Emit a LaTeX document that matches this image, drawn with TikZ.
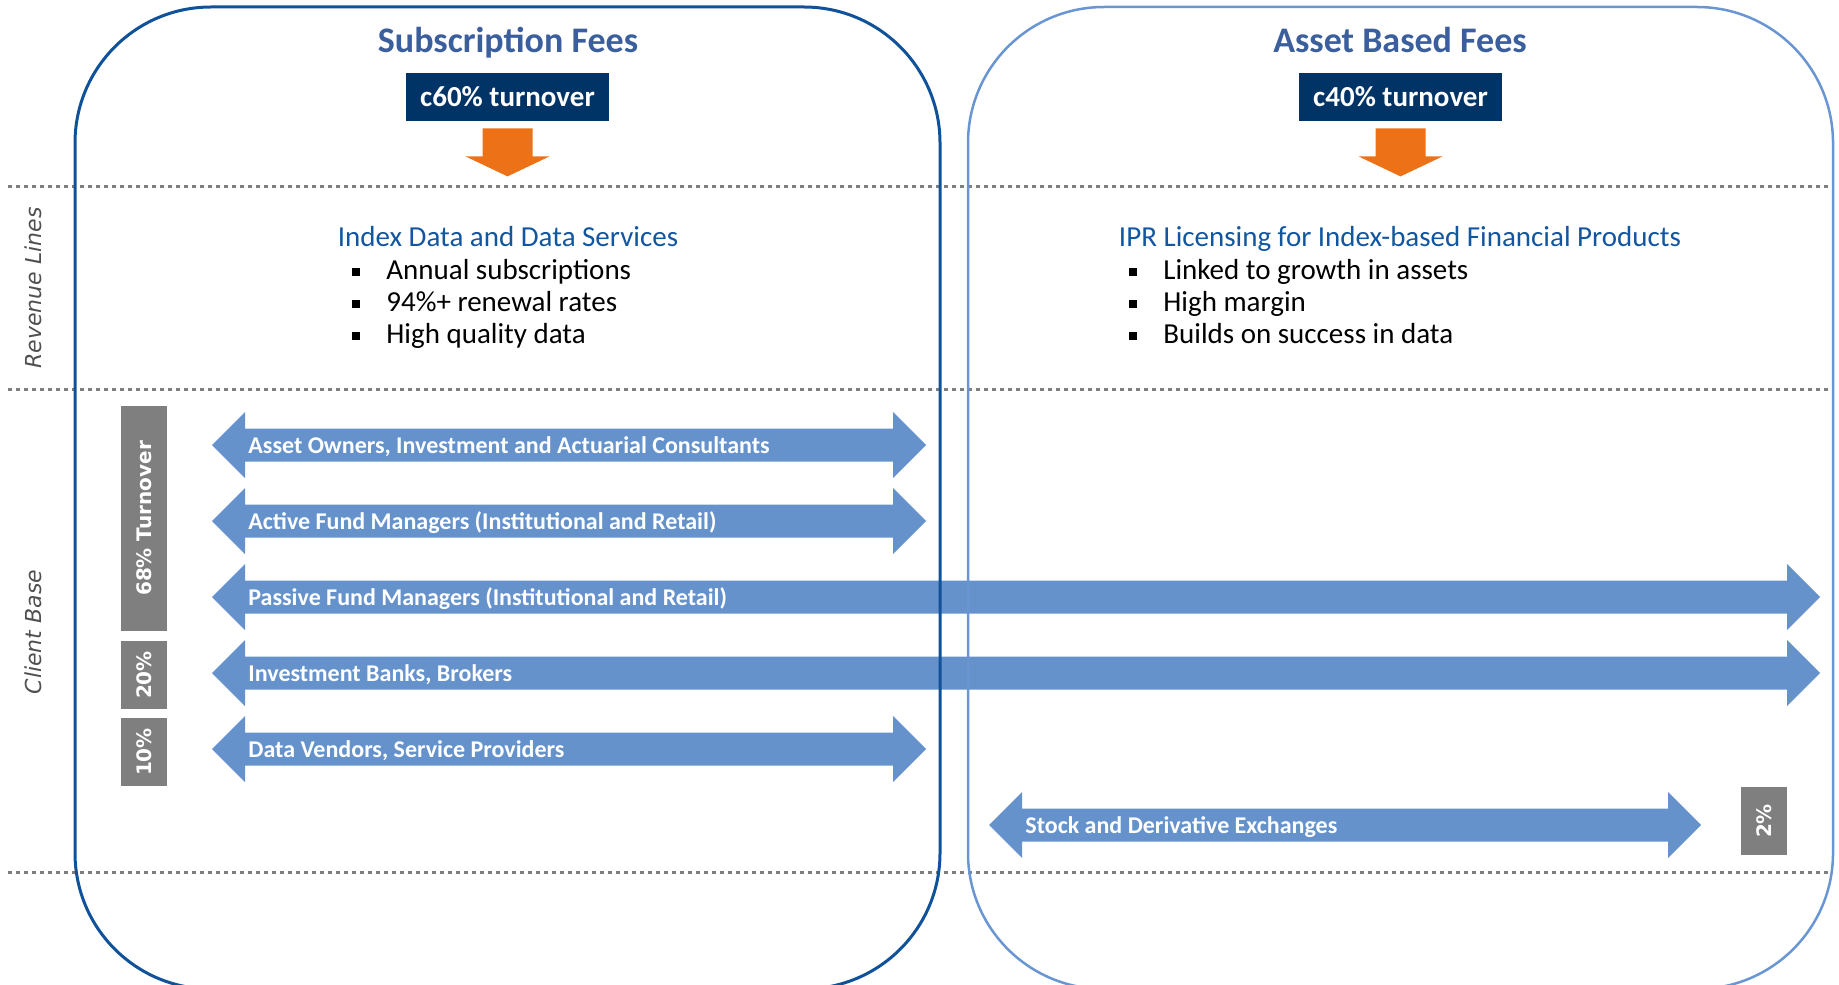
\documentclass[tikz,border=0pt]{standalone}
\usepackage{fontspec}
\setmainfont{Carlito}
\newfontfamily\widefont{DejaVu Sans}[ItalicFont={DejaVu Sans Oblique},BoldFont={DejaVu Sans Bold}]
\usetikzlibrary{positioning}

\definecolor{subblue}{RGB}{16,82,153}
\definecolor{assetblue}{RGB}{105,150,210}
\definecolor{headblue}{RGB}{59,94,157}
\definecolor{lineblue}{RGB}{18,86,160}
\definecolor{navy}{RGB}{0,51,102}
\definecolor{feeorange}{RGB}{237,113,22}
\definecolor{clientblue}{RGB}{102,146,204}
\definecolor{sharegray}{RGB}{127,127,127}
\definecolor{sidegray}{RGB}{80,80,80}

\tikzset{
	feehead/.style={font=\fontsize{18}{20}\selectfont\bfseries, text=headblue, anchor=base},
	turnover/.style={fill=navy, text=white, font=\fontsize{14.5}{16}\selectfont\bfseries, minimum width=101.5pt, minimum height=24pt, inner sep=0pt},
	feedarrow/.style={fill=feeorange},
	linehead/.style={font=\fontsize{14.5}{16}\selectfont, text=lineblue, anchor=base},
	lineitem/.style={font=\fontsize{14.5}{16}\selectfont, anchor=base west, inner sep=0pt},
	sepline/.style={draw=sharegray, line width=1.5pt, dash pattern=on 1.8pt off 2.2pt},
	sidelabel/.style={font=\widefont\itshape\fontsize{11}{13}\selectfont, text=sidegray, rotate=90},
	clientlabel/.style={font=\fontsize{12}{14}\selectfont\bfseries, text=white, anchor=base west, inner sep=0pt},
	share/.style={fill=sharegray, text=white, font=\widefont\bfseries\fontsize{10}{12}\selectfont, rotate=90, minimum width=34pt, minimum height=23pt, inner sep=0pt},
	feebox/.style={rounded corners=68pt, minimum width=432.5pt, minimum height=491pt}
}

\newcommand{\sqbullet}{\makebox[17pt][l]{\rule[1.5pt]{3.8pt}{3.8pt}}}
% name, y, left tip, right tip, text
\newcommand{\clientarrow}[5]{%
	\fill[clientblue] (#3,#2) -- ++(33,-33) -- ++(0,16.5) -- ({#4-33},{#2-16.5}) -- ++(0,-16.5) -- (#4,#2)
		-- ++(-33,33) -- ++(0,-16.5) -- ({#3+33},{#2+16.5}) -- ++(0,16.5) -- cycle;
	\node[clientlabel] (#1) at ({#3+36},{#2+8}) {#5};
}

\begin{document}
\begin{tikzpicture}[x=0.5pt, y=-0.5pt]
	\useasboundingbox (0,0) rectangle (1839,984);

	% separators
	\draw[sepline] (8,187) -- (1832,187);
	\draw[sepline] (8,389) -- (1832,389);
	\draw[sepline] (8,872) -- (1832,872);

	\node[sidelabel] (revenue) at (33,288) {Revenue Lines};
	\node[sidelabel] (clients) at (33,632) {Client Base};

	% fee headers
	\node[feehead] (subhead) at (508,53) {Subscription Fees};
	\node[feehead] (assethead) at (1400,53) {Asset Based Fees};
	\node[turnover] (sub60) at (507.5,97) {c60\% turnover};
	\node[turnover] (asset40) at (1400.5,97) {c40\% turnover};
	\coordinate (subfeed) at ([yshift=-3.5pt]sub60.south);
	\coordinate (assetfeed) at ([yshift=-3.5pt]asset40.south);
	\fill[feedarrow] (subfeed) -- ++(25,0) -- ++(0,28) -- ++(17,0) -- ++(-42,20) -- ++(-42,-20) -- ++(17,0) -- ++(0,-28) -- cycle;
	\fill[feedarrow] (assetfeed) -- ++(25,0) -- ++(0,28) -- ++(17,0) -- ++(-42,20) -- ++(-42,-20) -- ++(17,0) -- ++(0,-28) -- cycle;

	% revenue lines
	\node[linehead] (indexdata) at (508,246.5) {Index Data and Data Services};
	\node[lineitem] (annual) at (352,279) {\sqbullet Annual subscriptions};
	\node[lineitem] (renewal) at (352,311) {\sqbullet 94\%+ renewal rates};
	\node[lineitem] (quality) at (352,343) {\sqbullet High quality data};

	\node[linehead] (licensing) at (1400,246.5) {IPR Licensing for Index-based Financial Products};
	\node[lineitem] (growth) at (1129,279) {\sqbullet Linked to growth in assets};
	\node[lineitem] (margin) at (1129,311) {\sqbullet High margin};
	\node[lineitem] (success) at (1129,343) {\sqbullet Builds on success in data};

	% client base
	\clientarrow{owners}{445}{212}{926}{Asset Owners, Investment and Actuarial Consultants}
	\clientarrow{active}{521}{212}{926}{Active Fund Managers (Institutional and Retail)}
	\clientarrow{passive}{597}{212}{1820}{Passive Fund Managers (Institutional and Retail)}
	\clientarrow{banks}{673}{212}{1820}{Investment Banks, Brokers}
	\clientarrow{vendors}{749}{212}{926}{Data Vendors, Service Providers}
	\clientarrow{exchanges}{825}{989}{1701}{Stock and Derivative Exchanges}

	\node[share, minimum width=112.5pt] (share68) at (144,518.5) {68\% Turnover};
	\node[share] (share20) at (144,675) {20\%};
	\node[share] (share10) at (144,752) {10\%};
	\node[share] (share2) at (1764,821) {2\%};

	% fee columns
	\node[feebox, draw=subblue, line width=1.5pt] (subcol) at (507.5,498) {};
	\node[feebox, draw=assetblue, line width=1.25pt] (assetcol) at (1400.5,498) {};
\end{tikzpicture}
\end{document}
